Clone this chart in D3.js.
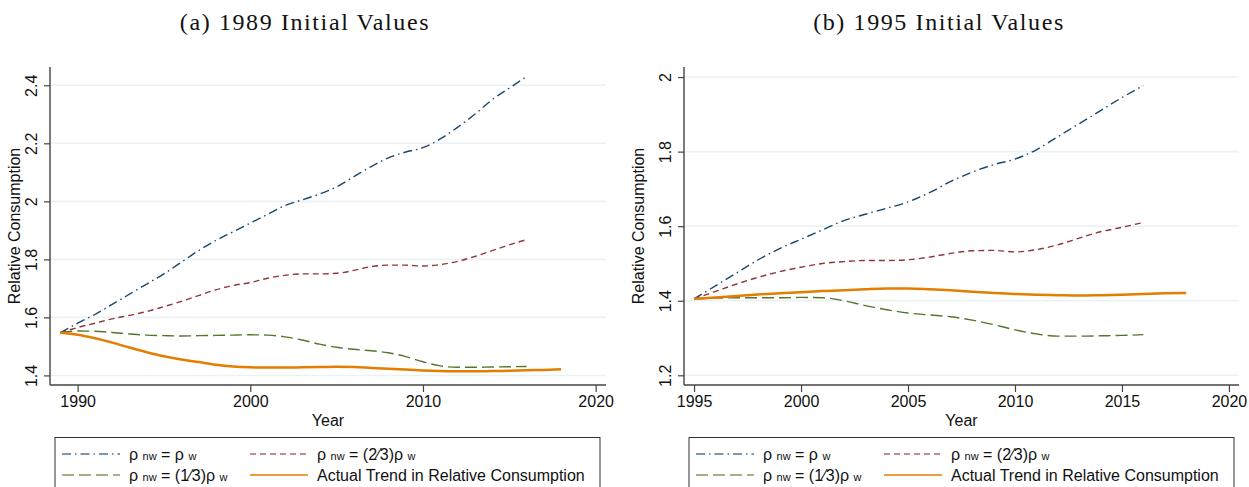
<!DOCTYPE html>
<html>
<head>
<meta charset="utf-8">
<script src="https://cdn.jsdelivr.net/npm/d3@7"></script>
<style>
  body { margin: 0; background: #fff; }
  svg { display: block; }
</style>
</head>
<body>
<svg id="chart" width="1249" height="487"></svg>
<script>
// ---------------- DATA ----------------
const yearsA = [1989,1990,1991,1992,1993,1994,1995,1996,1997,1998,1999,2000,2001,2002,2003,2004,2005,2006,2007,2008,2009,2010,2011,2012,2013,2014,2015,2016];
const yearsA_actual = [1989,1990,1991,1992,1993,1994,1995,1996,1997,1998,1999,2000,2001,2002,2003,2004,2005,2006,2007,2008,2009,2010,2011,2012,2013,2014,2015,2016,2017,2018];
const a_equal = [1.547,1.58,1.61,1.645,1.68,1.715,1.75,1.79,1.83,1.865,1.895,1.925,1.955,1.985,2.005,2.025,2.05,2.085,2.12,2.15,2.17,2.185,2.215,2.255,2.3,2.35,2.39,2.43];
const a_twoThirds = [1.547,1.565,1.58,1.595,1.607,1.62,1.637,1.655,1.675,1.695,1.71,1.72,1.735,1.745,1.75,1.75,1.752,1.762,1.775,1.78,1.78,1.777,1.782,1.793,1.81,1.83,1.85,1.868];
const a_oneThird = [1.547,1.553,1.552,1.548,1.543,1.539,1.537,1.536,1.537,1.538,1.539,1.54,1.539,1.533,1.522,1.508,1.497,1.49,1.485,1.478,1.465,1.447,1.433,1.428,1.428,1.429,1.43,1.431];
const a_actual = [1.547,1.54,1.528,1.513,1.496,1.48,1.466,1.455,1.446,1.437,1.431,1.428,1.427,1.427,1.428,1.429,1.43,1.429,1.426,1.423,1.42,1.417,1.415,1.414,1.414,1.415,1.416,1.418,1.419,1.421];

const yearsB = [1995,1996,1997,1998,1999,2000,2001,2002,2003,2004,2005,2006,2007,2008,2009,2010,2011,2012,2013,2014,2015,2016];
const yearsB_actual = [1995,1996,1997,1998,1999,2000,2001,2002,2003,2004,2005,2006,2007,2008,2009,2010,2011,2012,2013,2014,2015,2016,2017,2018];
const b_equal = [1.405,1.44,1.475,1.51,1.54,1.565,1.59,1.615,1.632,1.648,1.665,1.69,1.72,1.745,1.765,1.78,1.805,1.84,1.875,1.91,1.945,1.977];
const b_twoThirds = [1.405,1.425,1.445,1.463,1.478,1.49,1.5,1.505,1.508,1.508,1.51,1.517,1.527,1.534,1.535,1.531,1.537,1.55,1.568,1.585,1.597,1.61];
const b_oneThird = [1.405,1.407,1.408,1.408,1.408,1.409,1.408,1.4,1.387,1.376,1.367,1.362,1.357,1.348,1.336,1.322,1.311,1.305,1.305,1.306,1.307,1.309];
const b_actual = [1.405,1.409,1.413,1.417,1.42,1.423,1.426,1.428,1.431,1.433,1.433,1.431,1.428,1.424,1.421,1.418,1.416,1.415,1.414,1.415,1.416,1.418,1.42,1.421];

const panelTitles = ["(a) 1989 Initial Values", "(b) 1995 Initial Values"];
const xTicksA = [1990, 2000, 2010, 2020];
const xTicksB = [1995, 2000, 2005, 2010, 2015, 2020];
const yTicksA = [1.4, 1.6, 1.8, 2.0, 2.2, 2.4];
const yTickLabelsA = ["1.4", "1.6", "1.8", "2", "2.2", "2.4"];
const yTicksB = [1.2, 1.4, 1.6, 1.8, 2.0];
const yTickLabelsB = ["1.2", "1.4", "1.6", "1.8", "2"];
const yAxisTitle = "Relative Consumption";
const xAxisTitle = "Year";
const seriesKeys = ["equal", "twoThirds", "oneThird", "actual"];

// ---------------- STYLE ----------------
const styles = {
  equal:     { color: "#1a476f", width: 1.4, dash: "9,4,1.5,4" },
  twoThirds: { color: "#90353b", width: 1.4, dash: "6,4" },
  oneThird:  { color: "#55752f", width: 1.4, dash: "12,5" },
  actual:    { color: "#e37e00", width: 2.5, dash: null }
};
const sans = "'Liberation Sans', Arial, sans-serif";
const serif = "'Liberation Serif', 'Times New Roman', serif";
const FS = 16;

const svg = d3.select("#chart");

const panels = [
  {
    title: panelTitles[0], titleX: 305,
    left: 50, right: 606, top: 67, bottom: 385,
    xDomain: [1988.4, 2020.6], yDomain: [1.367, 2.463],
    xTicks: xTicksA, yTicks: yTicksA, yLabels: yTickLabelsA,
    yTitleX: 14, legendLeft: 55, legendRight: 600,
    series: {
      equal: [yearsA, a_equal], twoThirds: [yearsA, a_twoThirds],
      oneThird: [yearsA, a_oneThird], actual: [yearsA_actual, a_actual]
    }
  },
  {
    title: panelTitles[1], titleX: 939,
    left: 684, right: 1239, top: 67, bottom: 385,
    xDomain: [1994.53, 2020.47], yDomain: [1.174, 2.027],
    xTicks: xTicksB, yTicks: yTicksB, yLabels: yTickLabelsB,
    yTitleX: 638, legendLeft: 689, legendRight: 1234,
    series: {
      equal: [yearsB, b_equal], twoThirds: [yearsB, b_twoThirds],
      oneThird: [yearsB, b_oneThird], actual: [yearsB_actual, b_actual]
    }
  }
];

panels.forEach(p => {
  const x = d3.scaleLinear().domain(p.xDomain).range([p.left, p.right]);
  const y = d3.scaleLinear().domain(p.yDomain).range([p.bottom, p.top]);
  const g = svg.append("g");

  // title
  g.append("text")
    .attr("x", p.titleX).attr("y", 30)
    .attr("text-anchor", "middle")
    .attr("font-family", serif).attr("font-size", 24)
    .attr("letter-spacing", 1.6)
    .attr("fill", "#111")
    .text(p.title);

  // gridlines
  g.append("g").selectAll("line").data(p.yTicks).join("line")
    .attr("x1", p.left).attr("x2", p.right)
    .attr("y1", d => y(d)).attr("y2", d => y(d))
    .attr("stroke", "#eaf2f3").attr("stroke-width", 1.6);

  // y axis
  const yAxis = d3.axisLeft(y).tickValues(p.yTicks)
    .tickFormat((d, i) => p.yLabels[i]).tickSize(6).tickSizeOuter(0);
  const ya = g.append("g").attr("transform", `translate(${p.left},0)`).call(yAxis);
  ya.select(".domain").attr("stroke", "#444").attr("stroke-width", 1.4)
    .attr("d", `M0,${p.top}V${p.bottom}`);
  ya.selectAll(".tick line").attr("stroke", "#444").attr("stroke-width", 1.2);
  ya.selectAll(".tick text")
    .attr("transform", "rotate(-90)")
    .attr("x", 0).attr("y", -19).attr("dy", "0.35em")
    .attr("text-anchor", "middle")
    .attr("font-family", sans).attr("font-size", FS).attr("fill", "#111");

  // x axis
  const xAxis = d3.axisBottom(x).tickValues(p.xTicks)
    .tickFormat(d3.format("d")).tickSize(7).tickSizeOuter(0).tickPadding(4);
  const xa = g.append("g").attr("transform", `translate(0,${p.bottom})`).call(xAxis);
  xa.select(".domain").attr("stroke", "#444").attr("stroke-width", 1.4)
    .attr("d", `M${p.left},0H${p.right}`);
  xa.selectAll(".tick line").attr("stroke", "#444").attr("stroke-width", 1.2);
  xa.selectAll(".tick text")
    .attr("font-family", sans).attr("font-size", FS).attr("fill", "#111");

  // axis titles
  g.append("text")
    .attr("transform", `translate(${p.yTitleX},${(p.top + p.bottom) / 2}) rotate(-90)`)
    .attr("dy", "0.35em").attr("text-anchor", "middle")
    .attr("font-family", sans).attr("font-size", FS).attr("fill", "#111")
    .text(yAxisTitle);
  g.append("text")
    .attr("x", (p.left + p.right) / 2).attr("y", 426)
    .attr("text-anchor", "middle")
    .attr("font-family", sans).attr("font-size", FS).attr("fill", "#111")
    .text(xAxisTitle);

  // lines
  const line = d3.line().x(d => x(d[0])).y(d => y(d[1])).curve(d3.curveMonotoneX);
  seriesKeys.forEach(k => {
    const [xs, ys] = p.series[k];
    const pts = xs.map((xv, i) => [xv, ys[i]]);
    const s = styles[k];
    g.append("path").datum(pts)
      .attr("d", line)
      .attr("fill", "none")
      .attr("stroke", s.color)
      .attr("stroke-width", s.width)
      .attr("stroke-dasharray", s.dash)
      .attr("stroke-linejoin", "round");
  });

  // legend
  const lg = g.append("g");
  lg.append("rect")
    .attr("x", p.legendLeft).attr("y", 437.5)
    .attr("width", p.legendRight - p.legendLeft).attr("height", 80)
    .attr("fill", "#fff").attr("stroke", "#333").attr("stroke-width", 1);
  const items = [
    { k: "equal", col: 0, row: 0, parts: [["ρ ", 0], ["nw", 1], [" = ρ ", 0], ["w", 1]] },
    { k: "twoThirds", col: 1, row: 0, parts: [["ρ ", 0], ["nw", 1], [" = (2⁄3)ρ ", 0], ["w", 1]] },
    { k: "oneThird", col: 0, row: 1, parts: [["ρ ", 0], ["nw", 1], [" = (1⁄3)ρ ", 0], ["w", 1]] },
    { k: "actual", col: 1, row: 1, parts: [["Actual Trend in Relative Consumption", 0]] }
  ];
  items.forEach(it => {
    const sx = p.legendLeft + (it.col === 0 ? 7 : 195);
    const ly = it.row === 0 ? 454 : 475;
    const s = styles[it.k];
    lg.append("line")
      .attr("x1", sx).attr("x2", sx + 58)
      .attr("y1", ly).attr("y2", ly)
      .attr("stroke", s.color).attr("stroke-opacity", 0.75)
      .attr("stroke-width", it.k === "actual" ? 2.2 : 1.4)
      .attr("stroke-dasharray", s.dash);
    const t = lg.append("text")
      .attr("x", sx + 67).attr("y", ly + 6)
      .attr("font-family", sans).attr("font-size", FS).attr("fill", "#111");
    it.parts.forEach(([txt, small]) => {
      t.append("tspan")
        .attr("font-size", small ? 11 : FS)
        .text(txt);
    });
  });
});
</script>
</body>
</html>
